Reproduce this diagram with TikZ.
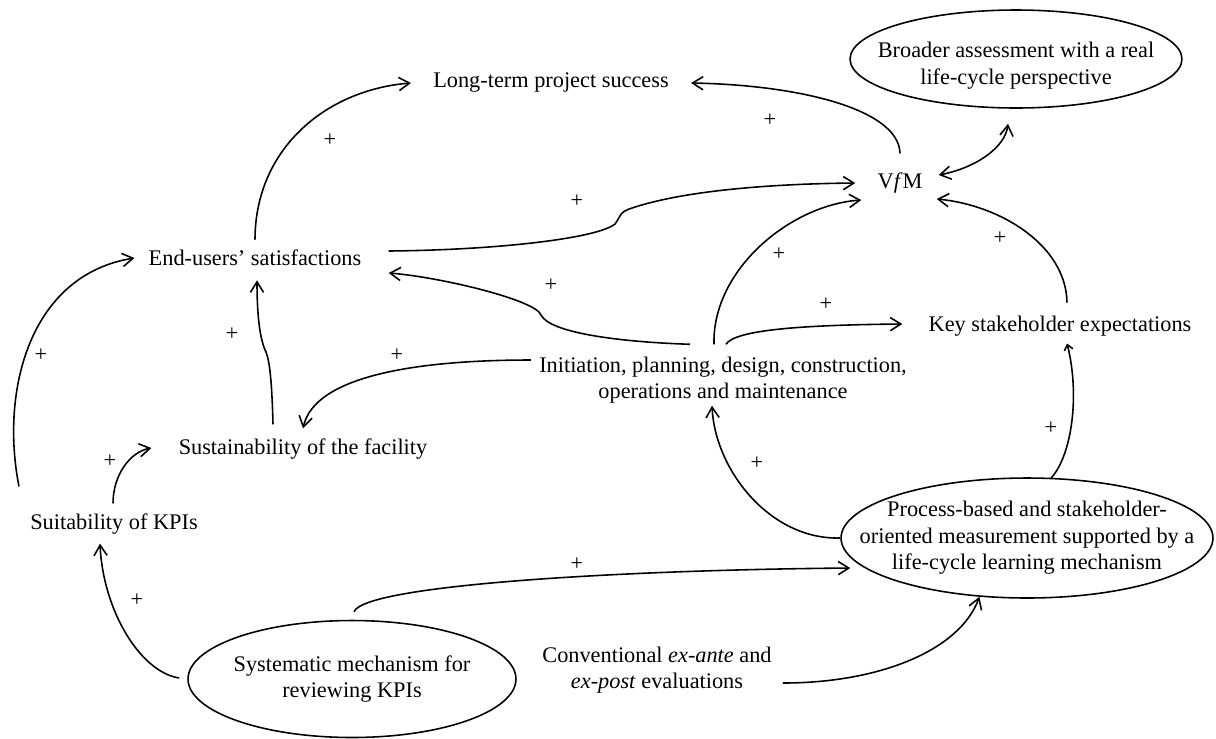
\documentclass[tikz,border=0pt]{standalone}
\usepackage{fontspec}
\setmainfont{Liberation Serif}
\usetikzlibrary{arrows.meta,shapes,calc}

\begin{document}
\begin{tikzpicture}[
    x=0.02cm, y=-0.02cm,
    font=\fontsize{12.7}{15.1}\selectfont,
    var/.style={align=center, inner xsep=0.44cm, inner ysep=0.2cm},
    oval/.style={ellipse, draw, line width=0.9pt, align=center,
                 inner xsep=-2cm, inner ysep=-1cm},
    sign/.style={inner sep=0pt},
    arrow/.style={-{Straight Barb[length=6pt,width=7.5pt]}, line width=0.9pt},
    darrow/.style={arrow, {Straight Barb[length=6pt,width=7.5pt]}-{Straight Barb[length=6pt,width=7.5pt]}},
    tinyarrow/.style={-{Straight Barb[length=3pt,width=5pt]}, line width=0.9pt}
  ]
    \useasboundingbox (0,0) rectangle (1216,738);

    % Outcomes
    \node[var] (lts) at (551,83) {Long-term project success};
    \node[var] (vfm) at (900,183) {V\textit{f}M};
    \node[oval, minimum width=6.64cm, minimum height=1.96cm] (broad) at (1016,59) {\rule{0pt}{0.58cm}Broader assessment with a real\\life-cycle perspective};
    \node[var] (eus) at (255,258) {End-users’ satisfactions};
    \node[var] (key) at (1060,326) {Key stakeholder expectations};

    % Project stages and facility
    \node[var, inner xsep=0.16cm] (init) at (723,380) {Initiation, planning, design, construction,\\operations and maintenance};
    \node[var] (sust) at (303,449) {Sustainability of the facility};
    \node[var] (suit) at (114,524) {Suitability of KPIs};

    % Measurement
    \node[oval, minimum width=7.44cm, minimum height=2.4cm] (proc) at (1027,538) {Process-based and stakeholder-\\oriented measurement supported by a\\life-cycle learning mechanism};
    \node[oval, minimum width=6.56cm, minimum height=2.34cm] (syst) at (352,679) {Systematic mechanism for\\reviewing KPIs};
    \node[var, inner xsep=0.22cm] (conv) at (657,670) {Conventional \textit{ex-ante} and\\\textit{ex-post} evaluations};

    % Polarity signs
    \node[sign] (p1) at (330,140) {+};
    \node[sign] (p2) at (770,120) {+};
    \node[sign] (p3) at (577,201) {+};
    \node[sign] (p4) at (779,254) {+};
    \node[sign] (p5) at (551,285) {+};
    \node[sign] (p6) at (826,304) {+};
    \node[sign] (p7) at (1000,238) {+};
    \node[sign] (p8) at (232,334) {+};
    \node[sign] (p9) at (41,355) {+};
    \node[sign] (p10) at (397,355) {+};
    \node[sign] (p11) at (110,461) {+};
    \node[sign] (p12) at (757,463) {+};
    \node[sign] (p13) at (1051,428) {+};
    \node[sign] (p14) at (577,564) {+};
    \node[sign] (p15) at (137,600) {+};

    % Links
    \draw[arrow] (eus.north) .. controls +(0,-90) and +(-86,7) .. (lts.west);
    \draw[arrow] ($(vfm.north)+(0,-9)$) .. controls +(-1,-44) and +(109,2) .. (lts.east);
    \draw[arrow] ($(eus.east)+(5,-7)$) .. controls (500,250) and (598,238) .. (615,224)
        .. controls (621,216) and (619,212) .. (632,208) .. controls (680,192) and (760,184) .. (vfm.west);
    \draw[arrow] ($(init.north)+(-33,-2)$) .. controls (620,342) and (550,333) .. (541,315)
        .. controls (536,300) and (440,277) .. ($(eus.east)+(5,15)$);
    \draw[arrow] ($(init.north)+(-9,-2)$) .. controls (712,270) and (790,205) .. ($(vfm.west)+(6,17)$);
    \draw[arrow] ($(init.north)+(3,-2)$) .. controls (735,330) and (800,325) .. ($(key.west)+(-4,-2)$);
    \draw[arrow] ($(key.north)+(7,-3)$) .. controls (1066,245) and (1000,205) .. ($(vfm.east)+(-8,16)$);
    \draw[darrow] ($(vfm.east)+(-6,-8)$) .. controls (975,168) and (1005,148) .. ($(broad.south)+(-8,15)$);
    \draw[tinyarrow] ($(proc.north)+(24,1)$) .. controls (1072,455) and (1080,395) .. ($(key.south)+(7,-3)$);
    \draw[arrow] (proc.west) .. controls (770,540) and (715,470) .. ($(init.south)+(-11,-8)$);
    \draw[arrow] ($(syst.north)+(2,-8)$) .. controls (365,585) and (620,570) .. ($(proc.west)+(10,30)$);
    \draw[arrow] ($(conv.east)+(0,13)$) .. controls (880,683) and (960,650) .. (proc.231);
    \draw[arrow] ($(syst.west)+(-8,-1)$) .. controls (140,672) and (103,610) .. ($(suit.south)+(-14,-1)$);
    \draw[arrow] ($(suit.north)+(-1,0)$) .. controls (113,475) and (130,452) .. ($(sust.west)+(-5,-1)$);
    \draw[arrow] ($(suit.north west)+(11,-17)$) .. controls (0,390) and (30,275) .. ($(eus.west)+(8,0)$);
    \draw[arrow] ($(sust.north)+(-30,-4)$) .. controls (272,385) and (270,362) .. (266,352)
        .. controls (259,338) and (257,310) .. ($(eus.south)+(2,4)$);
    \draw[arrow] ($(init.west)+(0,-20)$) .. controls (420,360) and (315,375) .. (sust.north);
  \end{tikzpicture}
\end{document}
